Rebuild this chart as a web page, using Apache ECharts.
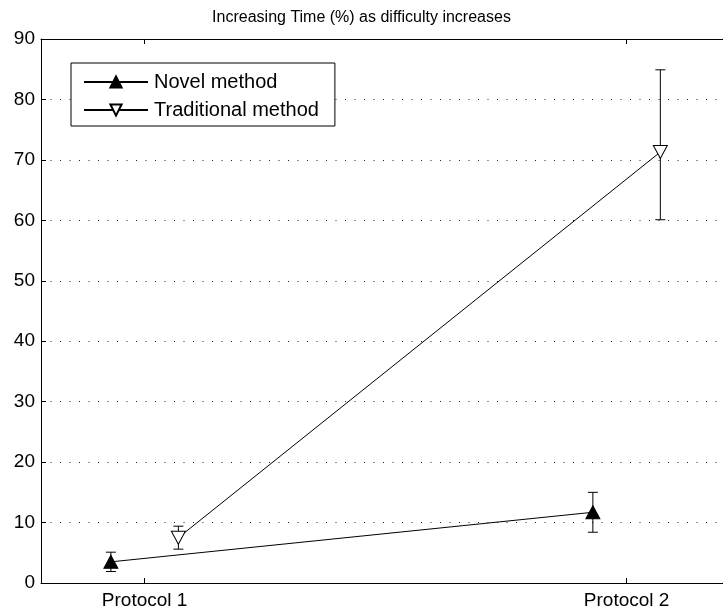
<!DOCTYPE html>
<html>
<head>
<meta charset="utf-8">
<script src="https://cdn.jsdelivr.net/npm/echarts@6/dist/echarts.min.js"></script>
<style>
  html, body { margin: 0; padding: 0; background: #fff; }
  #chart { width: 723px; height: 613px; }
</style>
</head>
<body>
<div id="chart"></div>
<script>
// categories and where they sit on the x scale
const categories = ['Protocol 1', 'Protocol 2'];
const catPos = [1, 2];
// each method is drawn slightly left / right of its category
const novelX = [0.93, 1.93];
const tradX = [1.07, 2.07];

// mean values and error bar ends
const novelMean = [3.5, 11.7];
const novelLow = [1.9, 8.4];
const novelHigh = [5.1, 15.0];
const tradMean = [7.5, 71.3];
const tradLow = [5.6, 60.1];
const tradHigh = [9.4, 84.9];

const yTicks = [0, 10, 20, 30, 40, 50, 60, 70, 80, 90];

const font = 'Liberation Sans, Arial, Helvetica, sans-serif';

const chart = echarts.init(document.getElementById('chart'));

function errorBars(xs, lows, highs) {
  return {
    type: 'custom',
    silent: true,
    z: 2,
    data: xs.map((x, i) => [x, lows[i], highs[i]]),
    encode: { x: 0, y: [1, 2] },
    renderItem: function (params, api) {
      const x = api.value(0);
      const lo = api.coord([x, api.value(1)]);
      const hi = api.coord([x, api.value(2)]);
      const cap = 5;
      const style = { stroke: '#000', lineWidth: 1 };
      return {
        type: 'group',
        children: [
          { type: 'line', shape: { x1: lo[0], y1: lo[1], x2: hi[0], y2: hi[1] }, style: style },
          { type: 'line', shape: { x1: lo[0] - cap, y1: lo[1], x2: lo[0] + cap, y2: lo[1] }, style: style },
          { type: 'line', shape: { x1: hi[0] - cap, y1: hi[1], x2: hi[0] + cap, y2: hi[1] }, style: style }
        ]
      };
    }
  };
}

// the axes box runs past the right edge of the picture, so the visible
// range stops short of the symmetric limit
const xMin = 0.785;
const xMax = 2.2;

const option = {
  animation: false,
  backgroundColor: '#fff',
  title: {
    text: 'Increasing Time (%) as difficulty increases',
    left: 'center',
    top: 5,
    textStyle: { fontFamily: font, fontSize: 16, fontWeight: 'normal', color: '#000' }
  },
  legend: {
    orient: 'vertical',
    left: 71,
    top: 63,
    padding: [9, 16, 6, 12],
    itemGap: 8,
    itemWidth: 64,
    itemHeight: 14,
    backgroundColor: '#fff',
    borderColor: '#000',
    borderWidth: 1,
    borderRadius: 0,
    textStyle: { fontFamily: font, fontSize: 20, color: '#000', padding: [0, 0, 0, 1] },
    data: ['Novel method', 'Traditional method']
  },
  grid: { left: 41, top: 39, right: -2, bottom: 30, containLabel: false },
  xAxis: [
    {
      type: 'value',
      min: xMin,
      max: xMax,
      position: 'bottom',
      axisLine: { show: true, lineStyle: { color: '#000', width: 1 } },
      axisTick: { show: true, inside: true, length: 5, customValues: catPos, lineStyle: { color: '#000' } },
      axisLabel: {
        customValues: catPos,
        margin: 8,
        fontFamily: font, fontSize: 19, color: '#000',
        formatter: function (v) { return categories[catPos.indexOf(v)]; }
      },
      splitLine: { show: false }
    },
    {
      type: 'value',
      min: xMin,
      max: xMax,
      position: 'top',
      axisLine: { show: true, lineStyle: { color: '#000', width: 1 } },
      axisTick: { show: true, inside: true, length: 5, customValues: catPos, lineStyle: { color: '#000' } },
      axisLabel: { show: false },
      splitLine: { show: false }
    }
  ],
  yAxis: {
    type: 'value',
    min: 0,
    max: 90,
    interval: 10,
    position: 'left',
    axisLine: { show: true, lineStyle: { color: '#000', width: 1 } },
    axisTick: { show: true, inside: true, length: 5, lineStyle: { color: '#000' } },
    axisLabel: {
      margin: 6,
      fontFamily: font, fontSize: 19, color: '#000',
      formatter: function (v) { return yTicks.indexOf(v) >= 0 ? String(v) : ''; }
    },
    splitLine: { show: true, lineStyle: { color: '#222', width: 1, type: [1, 8.5] } }
  },
  series: [
    errorBars(novelX, novelLow, novelHigh),
    errorBars(tradX, tradLow, tradHigh),
    {
      name: 'Novel method',
      type: 'line',
      z: 3,
      data: novelX.map((x, i) => [x, novelMean[i]]),
      symbol: 'triangle',
      symbolSize: [14, 13],
      itemStyle: { color: '#000', borderColor: '#000', borderWidth: 1 },
      lineStyle: { color: '#000', width: 1 }
    },
    {
      name: 'Traditional method',
      type: 'line',
      z: 3,
      data: tradX.map((x, i) => [x, tradMean[i]]),
      symbol: 'path://M0,0 L12,0 L6,11 Z',
      symbolSize: [14, 13],
      itemStyle: { color: '#fff', borderColor: '#000', borderWidth: 1 },
      lineStyle: { color: '#000', width: 1 }
    }
  ]
};

chart.setOption(option);
</script>
</body>
</html>
